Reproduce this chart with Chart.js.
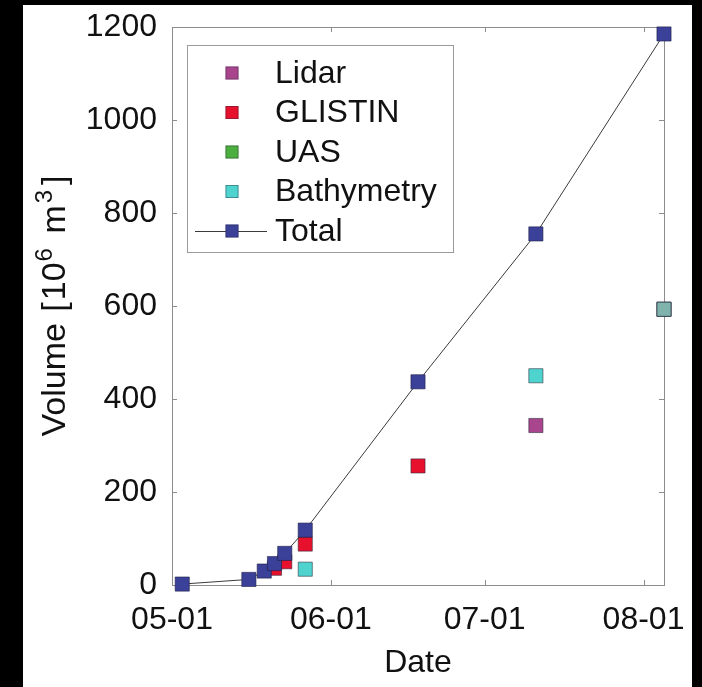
<!DOCTYPE html>
<html>
<head>
<meta charset="utf-8">
<script src="https://cdn.jsdelivr.net/npm/chart.js@4/dist/chart.umd.min.js"></script>
<style>
  html, body { margin: 0; padding: 0; background: #000; width: 702px; height: 687px; overflow: hidden; }
  #wrap { position: absolute; left: 23px; top: 5px; width: 669px; height: 682px; background: #fff; }
  canvas { display: block; }
</style>
</head>
<body>
<div id="wrap"><canvas id="c" width="669" height="682"></canvas></div>
<script>
// Survey dates (MM-DD) and ice volumes in 10^6 m^3
const tickDates = ['05-01', '06-01', '07-01', '08-01'];
const yTicks = [0, 200, 400, 600, 800, 1000, 1200];
const xStart = '05-01';
const xEnd = '08-05';

const lidarDates = ['07-11', '08-05'];
const lidarValues = [343, 593];

const glistinDates = ['05-21', '05-23', '05-27', '06-18'];
const glistinValues = [36, 50, 88, 256];

const uasDates = ['08-05'];
const uasValues = [593];

const bathyDates = ['05-27', '07-11', '08-05'];
const bathyValues = [34, 450, 593];

const totalDates = ['05-03', '05-16', '05-19', '05-21', '05-23', '05-27', '06-18', '07-11', '08-05'];
const totalValues = [2, 12, 30, 46, 68, 118, 437, 755, 1185];

// days elapsed since 1 May
function dayOf(md) {
  const [m, d] = md.split('-').map(Number);
  return (Date.UTC(2018, m - 1, d) - Date.UTC(2018, 4, 1)) / 86400000;
}
function pts(dates, values) {
  return dates.map((d, i) => ({ x: dayOf(d), y: values[i] }));
}

const FONT = "'Liberation Sans', Arial, Helvetica, sans-serif";
const FS = 32;
const TITLE_FS = 34;
const AXIS = '#8c8c8c';

const colors = {
  lidar: '#a8458c',
  glistin: '#e8112d',
  uas: '#4cae3e',
  bathy: '#4fd3cf',
  total: '#3b4199'
};

function markerSet(label, data, fill, order, extra) {
  return Object.assign({
    label, data, order,
    showLine: false,
    pointStyle: 'rect',
    pointRadius: 10,
    pointHoverRadius: 10,
    backgroundColor: fill,
    pointBackgroundColor: fill,
    pointBorderColor: 'rgba(40,40,60,0.55)',
    pointBorderWidth: 1,
    clip: false,
    legendFill: fill
  }, extra || {});
}

const datasets = [
  markerSet('Lidar', pts(lidarDates, lidarValues), colors.lidar, 4),
  markerSet('GLISTIN', pts(glistinDates, glistinValues), colors.glistin, 3),
  markerSet('UAS', pts(uasDates, uasValues), uasValues.map(() => 'rgba(76,174,62,0.45)'), 2, { legendFill: colors.uas }),
  markerSet('Bathymetry', pts(bathyDates, bathyValues),
    bathyDates.map((d, i) => i === bathyDates.length - 1 ? 'rgba(130,218,214,0.62)' : colors.bathy), 1,
    { legendFill: colors.bathy }),
  markerSet('Total', pts(totalDates, totalValues), colors.total, 0, {
    showLine: true,
    borderColor: '#3a3a3a',
    borderWidth: 1,
    pointBorderColor: 'rgba(30,30,70,0.6)'
  })
];

// frame, inward ticks, axis title with superscripts, and in-plot legend
const decor = {
  id: 'decor',
  beforeDatasetsDraw(chart) {
    const { ctx, chartArea: a, scales: { x, y } } = chart;
    ctx.save();
    ctx.strokeStyle = AXIS;
    ctx.lineWidth = 1;
    ctx.strokeRect(a.left + 0.5, a.top + 0.5, a.right - a.left, a.bottom - a.top);
    const tl = 5;
    ctx.beginPath();
    x.ticks.forEach(t => {
      const px = Math.round(x.getPixelForValue(t.value)) + 0.5;
      ctx.moveTo(px, a.bottom); ctx.lineTo(px, a.bottom - tl);
      ctx.moveTo(px, a.top); ctx.lineTo(px, a.top + tl);
    });
    y.ticks.forEach(t => {
      const py = Math.round(y.getPixelForValue(t.value)) + 0.5;
      ctx.moveTo(a.left, py); ctx.lineTo(a.left + tl, py);
      ctx.moveTo(a.right, py); ctx.lineTo(a.right - tl, py);
    });
    ctx.stroke();
    ctx.restore();
  },
  afterDraw(chart) {
    const { ctx, chartArea: a } = chart;
    ctx.save();
    // y-axis title: Volume [10^6 m^3]
    const parts = [
      ['Volume', false, 2], [' [', false, 2], ['10', false, 1], ['6', true, 5],
      [' m', false, 2], ['3', true, 5], [']', false, 0]
    ];
    const big = TITLE_FS + 'px ' + FONT, small = Math.round(TITLE_FS * 0.7) + 'px ' + FONT;
    let total = 0;
    parts.forEach(([s, sup, gap]) => { ctx.font = sup ? small : big; total += ctx.measureText(s).width + gap; });
    ctx.translate(33, (a.top + a.bottom) / 2);
    ctx.rotate(-Math.PI / 2);
    ctx.fillStyle = '#111';
    ctx.textBaseline = 'middle';
    ctx.textAlign = 'left';
    let cx = -total / 2;
    parts.forEach(([s, sup, gap]) => {
      ctx.font = sup ? small : big;
      ctx.fillText(s, cx, sup ? -11 : 0);
      cx += ctx.measureText(s).width + gap;
    });
    ctx.restore();

    // legend box
    ctx.save();
    const bx = a.left + 15, by = a.top + 18, bw = 266, bh = 207;
    ctx.fillStyle = '#fff';
    ctx.fillRect(bx, by, bw, bh);
    ctx.strokeStyle = '#9a9a9a';
    ctx.lineWidth = 1;
    ctx.strokeRect(bx + 0.5, by + 0.5, bw, bh);
    const ds = chart.data.datasets;
    const rowY0 = by + 28, step = 39.5;
    const mx = bx + 45, tx = bx + 88;
    ctx.font = FS + 'px ' + FONT;
    ctx.textBaseline = 'middle';
    ctx.textAlign = 'left';
    ds.forEach((d, i) => {
      const yy = rowY0 + i * step;
      if (d.showLine) {
        ctx.strokeStyle = d.borderColor;
        ctx.lineWidth = 1;
        ctx.beginPath();
        ctx.moveTo(bx + 8, yy + 0.5);
        ctx.lineTo(bx + 80, yy + 0.5);
        ctx.stroke();
      }
      const s = 13;
      ctx.fillStyle = d.legendFill;
      ctx.fillRect(mx - s / 2, yy - s / 2, s, s);
      ctx.strokeStyle = 'rgba(40,40,60,0.4)';
      ctx.strokeRect(mx - s / 2 + 0.5, yy - s / 2 + 0.5, s - 1, s - 1);
      ctx.fillStyle = '#111';
      ctx.fillText(d.label, tx, yy + 1);
    });
    ctx.restore();
  }
};

function noOverflow(s) {
  s.paddingLeft = 0; s.paddingRight = 0; s.paddingTop = 0; s.paddingBottom = 0;
}

new Chart(document.getElementById('c'), {
  type: 'line',
  data: { datasets },
  options: {
    responsive: false,
    animation: false,
    events: [],
    layout: { padding: { top: 22, right: 28, left: 0, bottom: 0 } },
    plugins: { legend: { display: false }, tooltip: { enabled: false } },
    scales: {
      x: {
        type: 'linear',
        min: dayOf(xStart),
        max: dayOf(xEnd),
        grid: { display: false, drawTicks: false },
        border: { display: false },
        afterBuildTicks: s => { s.ticks = tickDates.map(d => ({ value: dayOf(d) })); },
        afterFit: s => { s.height = 102; noOverflow(s); },
        ticks: {
          color: '#111',
          font: { family: FONT, size: FS },
          padding: 16,
          maxRotation: 0,
          autoSkip: false,
          callback: v => tickDates.find(d => dayOf(d) === v) || ''
        },
        title: {
          display: true,
          text: 'Date',
          color: '#111',
          font: { family: FONT, size: FS },
          padding: { top: 0, bottom: 5 }
        }
      },
      y: {
        type: 'linear',
        min: 0,
        max: 1200,
        grid: { display: false, drawTicks: false },
        border: { display: false },
        afterBuildTicks: s => { s.ticks = yTicks.map(v => ({ value: v })); },
        afterFit: s => { s.width = 149; noOverflow(s); },
        ticks: {
          color: '#111',
          font: { family: FONT, size: FS },
          padding: 15,
          callback: v => String(v)
        }
      }
    }
  },
  plugins: [decor]
});
</script>
</body>
</html>
